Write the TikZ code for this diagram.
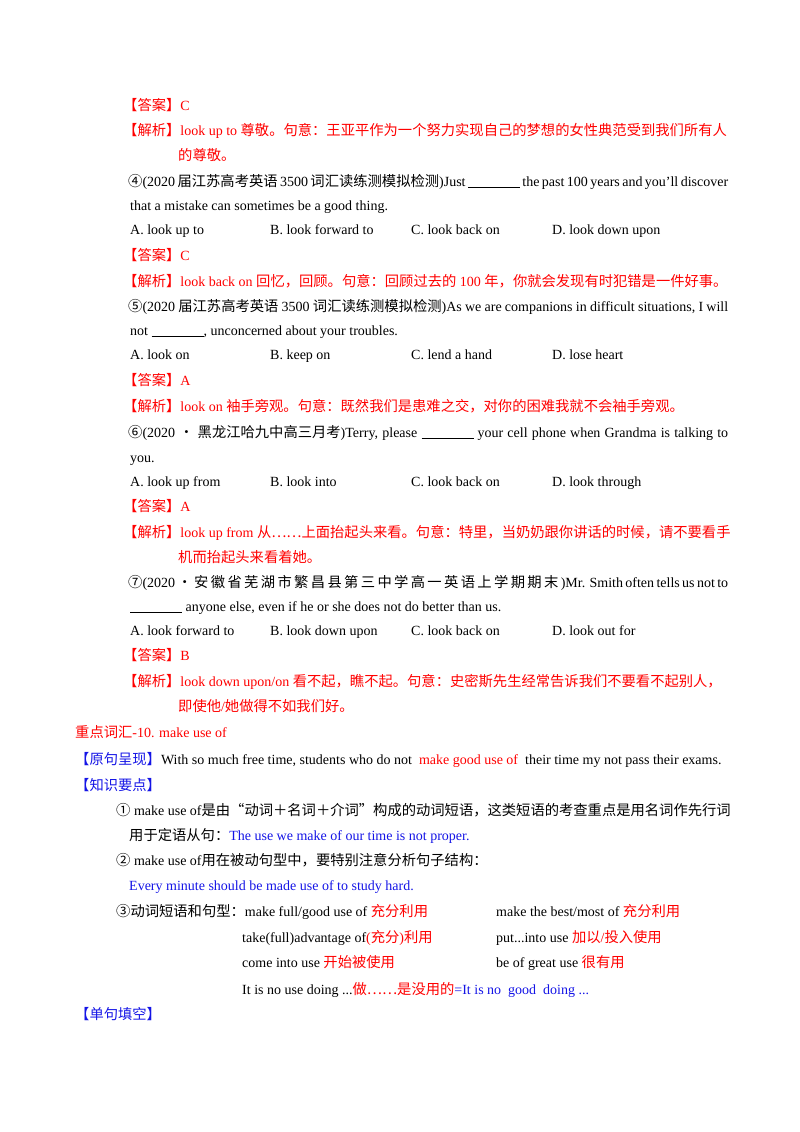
\documentclass[tikz,border=0pt]{standalone}
\usepackage{fontspec}
\setmainfont{Liberation Serif}
\newfontfamily\zhf{Noto Sans CJK SC}
\newcommand{\zh}[1]{{\zhf\fontsize{14.3pt}{15pt}\selectfont #1}}
\definecolor{ansred}{RGB}{255,0,0}
\definecolor{keyblue}{RGB}{20,20,230}
\newcommand{\bl}{\underline{\hspace{52pt}}}
\begin{document}
\begin{tikzpicture}[x=1pt,y=-1pt,
  every node/.style={anchor=base west,inner sep=0pt,font=\fontsize{14pt}{16pt}\selectfont},
  red/.style={text=ansred}, blue/.style={text=keyblue}]
\useasboundingbox (0,0) rectangle (800,1132);
\node[red] (l1) at (123,110) {\zh{【答案】}C};
\node[red] (l2) at (123,135) {\zh{【解析】}look up to \zh{尊敬。句意：王亚平作为一个努力实现自己的梦想的女性典范受到我们所有人}};
\node[red] (l3) at (178,160) {\zh{的尊敬。}};
\node (l4) at (128,186) {\makebox[600pt][s]{\zh{④}(2020 \zh{届江苏高考英语} 3500 \zh{词汇读练测模拟检测})Just \bl{} the past 100 years and you'll discover}};
\node (l5) at (130,210) {that a mistake can sometimes be a good thing.};
\node (l6a) at (130,234) {A. look up to};
\node (l6b) at (270,234) {B. look forward to};
\node (l6c) at (411,234) {C. look back on};
\node (l6d) at (552,234) {D. look down upon};
\node[red] (l7) at (123,260) {\zh{【答案】}C};
\node[red] (l8) at (123,286) {\zh{【解析】}look back on \zh{回忆，回顾。句意：回顾过去的} 100 \zh{年，你就会发现有时犯错是一件好事。}};
\node (l9) at (128,311) {\makebox[600pt][s]{\zh{⑤}(2020 \zh{届江苏高考英语} 3500 \zh{词汇读练测模拟检测})As we are companions in difficult situations, I will}};
\node (l10) at (130,335) {not \bl, unconcerned about your troubles.};
\node (l11a) at (130,359) {A. look on};
\node (l11b) at (270,359) {B. keep on};
\node (l11c) at (411,359) {C. lend a hand};
\node (l11d) at (552,359) {D. lose heart};
\node[red] (l12) at (123,385) {\zh{【答案】}A};
\node[red] (l13) at (123,411) {\zh{【解析】}look on \zh{袖手旁观。句意：既然我们是患难之交，对你的困难我就不会袖手旁观。}};
\node (l14) at (128,437) {\makebox[600pt][s]{\zh{⑥}(2020 \zh{•} \zh{黑龙江哈九中高三月考})Terry, please \bl{} your cell phone when Grandma is talking to}};
\node (l15) at (130,462) {you.};
\node (l16a) at (130,486) {A. look up from};
\node (l16b) at (270,486) {B. look into};
\node (l16c) at (411,486) {C. look back on};
\node (l16d) at (552,486) {D. look through};
\node[red] (l17) at (123,511) {\zh{【答案】}A};
\node[red] (l18) at (123,537) {\zh{【解析】}look up from \zh{从……上面抬起头来看。句意：特里，当奶奶跟你讲话的时候，请不要看手}};
\node[red] (l19) at (178,562) {\zh{机而抬起头来看着她。}};
\node (l20) at (128,587) {\makebox[600pt][s]{\zh{⑦}(2020 \zh{•} \zh{安} \zh{徽} \zh{省} \zh{芜} \zh{湖} \zh{市} \zh{繁} \zh{昌} \zh{县} \zh{第} \zh{三} \zh{中} \zh{学} \zh{高} \zh{一} \zh{英} \zh{语} \zh{上} \zh{学} \zh{期} \zh{期} \zh{末} )Mr. Smith often tells us not to}};
\node (l21) at (130,611) {\bl{} anyone else, even if he or she does not do better than us.};
\node (l22a) at (130,635) {A. look forward to};
\node (l22b) at (270,635) {B. look down upon};
\node (l22c) at (411,635) {C. look back on};
\node (l22d) at (552,635) {D. look out for};
\node[red] (l23) at (123,660) {\zh{【答案】}B};
\node[red] (l24) at (123,686) {\zh{【解析】}look down upon/on \zh{看不起，瞧不起。句意：史密斯先生经常告诉我们不要看不起别人，}};
\node[red] (l25) at (178,711) {\zh{即使他}/\zh{她做得不如我们好。}};
\node[red] (l26) at (75,737) {\zh{重点词汇}-10. make use of};
\node (l27) at (75,764) {{\color{keyblue}\zh{【原句呈现】}}With so much free time, students who do not \ {\color{ansred}make good use of} \ their time my not pass their exams.};
\node[blue] (l28) at (75,790) {\zh{【知识要点】}};
\node (l29) at (116,815) {\zh{①} make use of\zh{是由“动词＋名词＋介词”构成的动词短语，这类短语的考查重点是用名词作先行词}};
\node (l30) at (129,840) {\zh{用于定语从句：}{\color{keyblue}The use we make of our time is not proper.}};
\node (l31) at (116,865) {\zh{②} make use of\zh{用在被动句型中，要特别注意分析句子结构：}};
\node[blue] (l32) at (129,890) {Every minute should be made use of to study hard.};
\node (l33a) at (116,916) {\zh{③动词短语和句型：}make full/good use of {\color{ansred}\zh{充分利用}}};
\node (l33b) at (496,916) {make the best/most of {\color{ansred}\zh{充分利用}}};
\node (l34a) at (242,942) {take(full)advantage of{\color{ansred}(\zh{充分})\zh{利用}}};
\node (l34b) at (496,942) {put...into use {\color{ansred}\zh{加以}/\zh{投入使用}}};
\node (l35a) at (242,967) {come into use {\color{ansred}\zh{开始被使用}}};
\node (l35b) at (496,967) {be of great use {\color{ansred}\zh{很有用}}};
\node (l36) at (242,994) {It is no use doing ...{\color{ansred}\zh{做……是没用的}}{\color{keyblue}=It is no \ good \ doing ...}};
\node[blue] (l37) at (75,1019) {\zh{【单句填空】}};
\end{tikzpicture}
\end{document}
